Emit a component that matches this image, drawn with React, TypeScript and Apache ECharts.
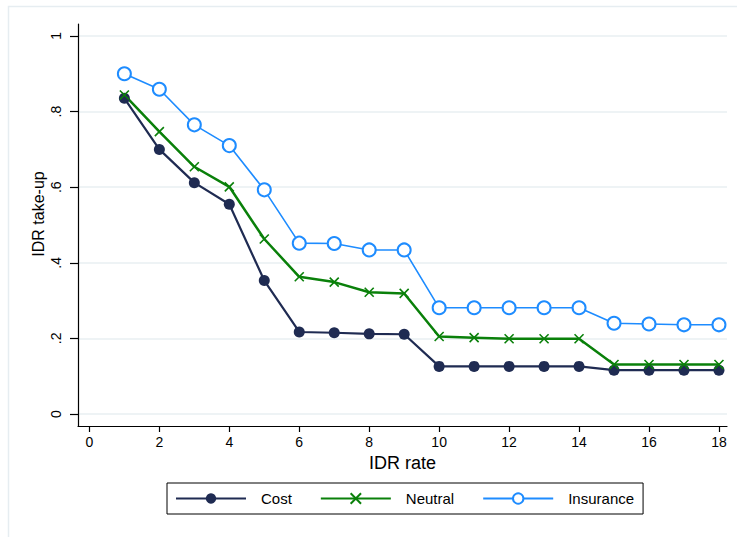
import React, { useEffect, useRef } from "react";
import * as echarts from "echarts";

const rates = [1, 2, 3, 4, 5, 6, 7, 8, 9, 10, 11, 12, 13, 14, 15, 16, 17, 18];
const costValues = [0.835, 0.700, 0.612, 0.555, 0.353, 0.217, 0.215, 0.212, 0.211, 0.126, 0.126, 0.126, 0.126, 0.126, 0.116, 0.116, 0.116, 0.116];
const neutralValues = [0.844, 0.747, 0.654, 0.601, 0.463, 0.363, 0.349, 0.322, 0.319, 0.205, 0.202, 0.199, 0.199, 0.199, 0.131, 0.131, 0.131, 0.131];
const insuranceValues = [0.900, 0.859, 0.765, 0.710, 0.593, 0.452, 0.451, 0.434, 0.434, 0.281, 0.281, 0.281, 0.281, 0.281, 0.240, 0.238, 0.236, 0.236];
const xTicks = [0, 2, 4, 6, 8, 10, 12, 14, 16, 18];
const yTicks = [0, 0.2, 0.4, 0.6, 0.8, 1];

const FONT = "Liberation Sans, Arial, sans-serif";

function pairs(vals: number[]) {
  return rates.map((r, i) => [r, vals[i]]);
}

export default function App() {
  const ref = useRef<HTMLDivElement>(null);
  useEffect(() => {
    if (!ref.current) return;
    const chart = echarts.init(ref.current, null, { renderer: "svg" });
    chart.setOption({
      animation: false,
      backgroundColor: "#ffffff",
      textStyle: { fontFamily: FONT },
      graphic: [
        {
          type: "rect",
          shape: { x: 8.5, y: 6.5, width: 760, height: 560 },
          style: { fill: "none", stroke: "#e6edf1", lineWidth: 1.5 },
          silent: true,
          z: -10,
        },
        {
          type: "text",
          x: 38,
          y: 214,
          rotation: Math.PI / 2,
          style: {
            text: "IDR take-up",
            fontSize: 16,
            fontFamily: FONT,
            fill: "#000",
            align: "center",
            verticalAlign: "middle",
          },
          silent: true,
        },
      ],
      grid: { left: 78, right: 10, top: 24, bottom: 111, containLabel: false },
      xAxis: {
        type: "value",
        min: -0.326,
        max: 18.23,
        name: "IDR rate",
        nameLocation: "middle",
        nameGap: 28,
        nameTextStyle: { fontSize: 18, color: "#000", fontFamily: FONT },
        axisLine: { show: true, onZero: false, lineStyle: { color: "#000", width: 1.2 } },
        axisTick: { show: true, customValues: xTicks, length: 6, lineStyle: { color: "#000", width: 1.2 } },
        axisLabel: { customValues: xTicks, fontSize: 14, color: "#000", margin: 9, fontFamily: FONT },
        splitLine: { show: false },
      },
      yAxis: {
        type: "value",
        min: -0.0317,
        max: 1.0317,
        axisLine: { show: true, onZero: false, lineStyle: { color: "#000", width: 1.2 } },
        axisTick: { show: true, customValues: yTicks, length: 8, lineStyle: { color: "#000", width: 1.2 } },
        axisLabel: {
          customValues: yTicks,
          rotate: 90,
          fontSize: 14,
          color: "#000",
          margin: 15,
          fontFamily: FONT,
          formatter: (v: number) => {
            const s = String(Math.round(v * 10) / 10);
            return s.startsWith("0.") ? s.slice(1) : s;
          },
        },
        splitLine: { show: true, lineStyle: { color: "#e9eff2", width: 1.5 } },
      },
      legend: {
        left: 167,
        top: 483,
        orient: "horizontal",
        itemWidth: 70,
        itemHeight: 13,
        itemGap: 28,
        padding: [8, 9, 8, 8],
        borderColor: "#000",
        borderWidth: 1,
        backgroundColor: "#fff",
        textStyle: { fontSize: 15, color: "#000", fontFamily: FONT, padding: [0, 0, 0, 10] },
        data: ["Cost", "Neutral", "Insurance"],
      },
      series: [
        {
          name: "Cost",
          type: "line",
          data: pairs(costValues),
          symbol: "circle",
          symbolSize: 11,
          showAllSymbol: true,
          lineStyle: { color: "#1f2b52", width: 2.2 },
          itemStyle: { color: "#1f2b52" },
        },
        {
          name: "Neutral",
          type: "line",
          data: pairs(neutralValues),
          symbol: "path://M0,0L10,10M10,0L0,10",
          symbolSize: 9,
          showAllSymbol: true,
          lineStyle: { color: "#0a800a", width: 2.5 },
          itemStyle: { color: "#0a800a", borderColor: "#0a800a", borderWidth: 1.6 },
        },
        {
          name: "Insurance",
          type: "line",
          data: pairs(insuranceValues),
          symbol: "emptyCircle",
          symbolSize: 13,
          showAllSymbol: true,
          lineStyle: { color: "#1e8cff", width: 1.6 },
          itemStyle: { color: "#1e8cff", borderColor: "#1e8cff", borderWidth: 1.6 },
        },
      ],
    });
    return () => chart.dispose();
  }, []);
  return (
    <div
      ref={ref}
      style={{ position: "fixed", left: 0, top: 0, width: 737, height: 537 }}
    />
  );
}
